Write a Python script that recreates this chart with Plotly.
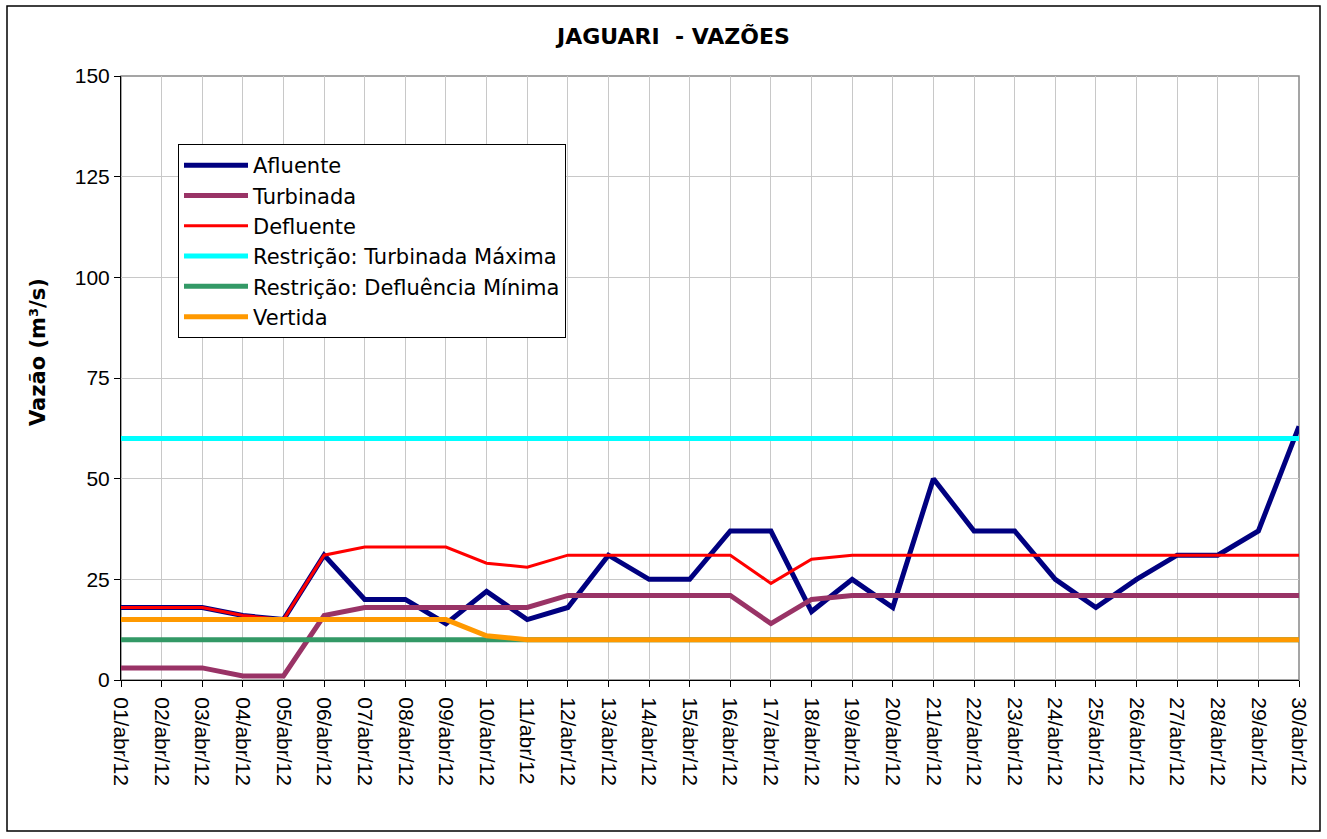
import plotly.graph_objects as go

dates = [f"{d:02d}/abr/12" for d in range(1, 31)]

afluente = [18, 18, 18, 16, 15, 31, 20, 20, 14, 22, 15, 18, 31, 25, 25, 37, 37, 17, 25, 18,
            50, 37, 37, 25, 18, 25, 31, 31, 37, 63]
turbinada = [3, 3, 3, 1, 1, 16, 18, 18, 18, 18, 18, 21, 21, 21, 21, 21, 14, 20, 21, 21,
             21, 21, 21, 21, 21, 21, 21, 21, 21, 21]
defluente = [18, 18, 18, 16, 15, 31, 33, 33, 33, 29, 28, 31, 31, 31, 31, 31, 24, 30, 31, 31,
             31, 31, 31, 31, 31, 31, 31, 31, 31, 31]
turb_max = [60] * 30
defl_min = [10] * 30
vertida = [15, 15, 15, 15, 15, 15, 15, 15, 15, 11, 10, 10, 10, 10, 10, 10, 10, 10, 10, 10,
           10, 10, 10, 10, 10, 10, 10, 10, 10, 10]

series = [
    ("Afluente", afluente, "#000080", 5),
    ("Turbinada", turbinada, "#993366", 5),
    ("Defluente", defluente, "#FF0000", 3),
    ("Restrição: Turbinada Máxima", turb_max, "#00FFFF", 5),
    ("Restrição: Defluência Mínima", defl_min, "#339966", 5),
    ("Vertida", vertida, "#FF9900", 5),
]

FONT = "Liberation Sans, Arial, sans-serif"
WIDE = "DejaVu Sans, Liberation Sans, sans-serif"

fig = go.Figure()
for name, vals, color, w in series:
    fig.add_trace(go.Scatter(x=dates, y=vals, mode="lines", name=name,
                             line=dict(color=color, width=w)))

W, H = 1327, 839
L, R, T, B = 121, 28, 76, 159
pw = W - L - R
ph = H - T - B

def px2x(px):
    return (px - L) / pw

def py2y(py):
    return (H - B - py) / ph

fig.update_layout(
    width=W, height=H,
    margin=dict(l=L, r=R, t=T, b=B),
    paper_bgcolor="white", plot_bgcolor="white",
    font=dict(family=FONT, size=21, color="black"),
    showlegend=True,
    legend=dict(x=px2x(178), y=py2y(144), xanchor="left", yanchor="top",
                bordercolor="black", borderwidth=1, bgcolor="white",
                font=dict(family=WIDE, size=21, color="black"),
                itemwidth=64, tracegroupgap=0),
    xaxis=dict(type="category", categoryorder="array", categoryarray=dates,
               range=[0, 29], tickangle=90, showgrid=True, gridcolor="#C8C8C8",
               gridwidth=1, showline=True, linecolor="black", linewidth=1,
               ticks="outside", ticklen=6, tickcolor="black", ticklabelstandoff=6,
               tickfont=dict(family=FONT, size=21, color="black"), zeroline=False),
    yaxis=dict(range=[0, 150], tickvals=[0, 25, 50, 75, 100, 125, 150],
               showgrid=True, gridcolor="#C8C8C8", gridwidth=1,
               showline=True, linecolor="black", linewidth=1,
               ticks="outside", ticklen=6, tickcolor="black",
               tickfont=dict(family=FONT, size=21, color="black"), zeroline=False),
    shapes=[
        dict(type="rect", xref="paper", yref="paper", x0=0, x1=1, y0=0, y1=1,
             line=dict(color="#888888", width=1.5), layer="below"),
        dict(type="rect", xref="paper", yref="paper", x0=px2x(7), x1=px2x(1320),
             y0=py2y(6), y1=py2y(831), line=dict(color="black", width=1.5)),
    ],
    annotations=[
        dict(text="<b>JAGUARI &nbsp;- VAZÕES</b>", xref="paper", yref="paper",
             x=px2x(672), y=py2y(36), xanchor="center", yanchor="middle",
             showarrow=False, font=dict(family=WIDE, size=22, color="black")),
        dict(text="<b>Vazão (m³/s)</b>", xref="paper", yref="paper",
             x=px2x(38), y=py2y(352), xanchor="center", yanchor="middle",
             textangle=-90, showarrow=False,
             font=dict(family=WIDE, size=21, color="black")),
    ],
)

fig.write_html("out.html", config={"displayModeBar": False},
               post_script="document.body.style.margin='0px';document.body.style.overflow='hidden';")
